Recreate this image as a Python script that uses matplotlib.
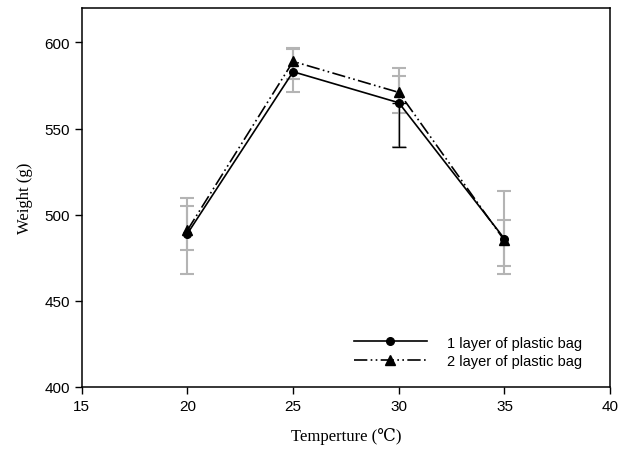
import matplotlib
matplotlib.use('agg')
from matplotlib import pyplot as plt

# temperature (C) and mean weight (g) for each packing
temps = [20, 25, 30, 35]
layer1 = [489, 583, 565, 486]
layer2 = [491, 589, 571, 485]

# asymmetric error bars (lower, upper)
layer1_lo = [23.5, 12, 26, 20.5]
layer1_hi = [20.5, 13, 15.5, 28]
layer2_lo = [11.5, 10, 12, 15]
layer2_hi = [14, 8, 14, 12]

labels = ['1 layer of plastic bag', '2 layer of plastic bag']
xticks = [15, 20, 25, 30, 35, 40]
yticks = [400, 450, 500, 550, 600]

plt.rcParams['font.family'] = ['Liberation Sans', 'DejaVu Sans']
serif = ['Liberation Serif', 'DejaVu Serif']

fig = plt.figure(figsize=(6.29, 4.52), dpi=100)
ax = fig.add_axes([0.130, 0.142, 0.840, 0.838])

grey = '#b4b4b4'
ax.errorbar(temps, layer1, yerr=[layer1_lo, layer1_hi], fmt='none',
            ecolor=grey, elinewidth=1.5, capsize=5, capthick=1.5, zorder=1)
ax.errorbar(temps, layer2, yerr=[layer2_lo, layer2_hi], fmt='none',
            ecolor=grey, elinewidth=1.5, capsize=5, capthick=1.5, zorder=1)
# the lower half of the 1 layer bar at 30 C is drawn black in the original
i = 2
ax.errorbar([temps[i]], [layer1[i]], yerr=[[layer1_lo[i]], [0]], fmt='none',
            ecolor='black', elinewidth=1.0, capsize=5, capthick=1.0, zorder=2)

ax.plot(temps, layer1, color='black', lw=1.2, marker='o', ms=5.5,
        label=labels[0], zorder=3)
ax.plot(temps, layer2, color='black', lw=1.2, marker='^', ms=6.5,
        linestyle=(0, (8, 2, 1, 2, 1, 2)), label=labels[1], zorder=3)

ax.set_xlim(15, 40)
ax.set_ylim(400, 620)
ax.set_xticks(xticks)
ax.set_yticks(yticks)
ax.tick_params(direction='out', length=5, width=1, labelsize=11, colors='black')
for s in ax.spines.values():
    s.set_linewidth(1.1)

ax.set_xlabel('Temperture (\u2103)', fontsize=12, family=serif, labelpad=10)
ax.set_ylabel('Weight (g)', fontsize=12, family=serif, labelpad=8)

ax.legend(loc='upper left', bbox_to_anchor=(0.49, 0.17), frameon=False,
          fontsize=10.5, handlelength=5.0, handletextpad=1.4, labelspacing=0.3)

plt.savefig('out.png', dpi=100)
plt.close()
